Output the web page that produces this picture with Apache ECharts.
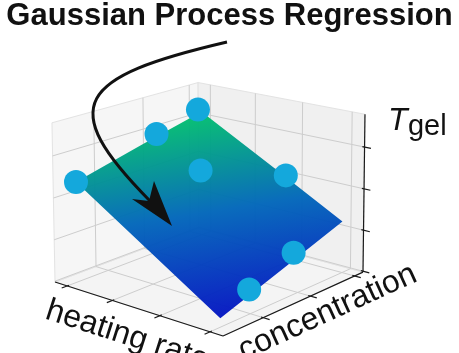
<!DOCTYPE html>
<html>
<head>
<meta charset="utf-8">
<script src="https://cdn.jsdelivr.net/npm/echarts/dist/echarts.min.js"></script>
<style>
html,body{margin:0;padding:0;background:#ffffff;}
#chart{width:459px;height:353px;}
</style>
</head>
<body>
<div id="chart"></div>
<script>
// ---------------- data ----------------
// GP-predicted surface: rows = concentration, columns = heating rate
const surfaceHeatingRate = [1, 2.5, 4];          // °C/min
const surfaceConcentration = [7, 13.5, 20];      // wt%
const surfaceTgel = [
  [20.9, 26.4, 31.9],
  [23.5, 28.7, 33.9],
  [26.1, 31.0, 35.8]
];
// observed measurements (blue dots)
const obsHeatingRate   = [4.0, 4.0, 4.0, 3.13, 2.16, 1.12, 1.1];
const obsConcentration = [19.6, 15.1, 7, 15.6, 20, 15.2, 10.4];
const obsTgel          = [36.2, 34.7, 31.9, 31.1, 30.1, 24.3, 22.3];
// axes
const heatingRange = [0.75, 4.28];
const concRange = [6, 21];
const tgelRange = [19.9, 38.9];
const heatingTicks = [1, 2, 3, 4];
const concTicks = [10, 15, 20];
const tgelTicks = [20, 25, 30, 35];

// ---------------- view (perspective of the 3D box) ----------------
const W = 459, H = 353;
const viewOrigin = [223, 336];            // front-bottom corner of the box
const vanishA = [-1672, -273];            // heating-rate direction
const vanishB = [1660, -320];             // concentration direction
const vanishC = [241, 10022];             // Tgel direction
const cornerA = [55, 282], cornerB = [363, 272], cornerC = [224, 162];

function lambdaFor(end, vp) {
  const i = Math.abs(viewOrigin[0] - end[0]) > Math.abs(viewOrigin[1] - end[1]) ? 0 : 1;
  return (viewOrigin[i] - end[i]) / (end[i] - vp[i]);
}
const LA = lambdaFor(cornerA, vanishA), LB = lambdaFor(cornerB, vanishB), LC = lambdaFor(cornerC, vanishC);

function project(a, b, c) {
  const w = 1 + a * LA + b * LB + c * LC;
  return [
    (viewOrigin[0] + a * LA * vanishA[0] + b * LB * vanishB[0] + c * LC * vanishC[0]) / w,
    (viewOrigin[1] + a * LA * vanishA[1] + b * LB * vanishB[1] + c * LC * vanishC[1]) / w
  ];
}
const sc = (v, r) => (v - r[0]) / (r[1] - r[0]);
const projectData = (hr, conc, t) => project(sc(hr, heatingRange), sc(conc, concRange), sc(t, tgelRange));

// ---------------- renderers ----------------
function renderBox(params, api) {
  const P = (a, b, c) => api.coord(project(a, b, c));
  const ch = [];
  const pane = (pts, fill) => ch.push({
    type: 'polygon', shape: { points: pts.map(p => P(p[0], p[1], p[2])) },
    style: { fill: fill, stroke: '#E3E3E3', lineWidth: 1 }
  });
  pane([[0,0,0],[1,0,0],[1,1,0],[0,1,0]], '#F4F4F4');
  pane([[1,0,0],[1,1,0],[1,1,1],[1,0,1]], '#F6F6F6');
  pane([[0,1,0],[1,1,0],[1,1,1],[0,1,1]], '#F0F0F0');
  const seg = (p, q, stroke, lw) => {
    const A = P(p[0], p[1], p[2]), B = P(q[0], q[1], q[2]);
    ch.push({ type: 'line', shape: { x1: A[0], y1: A[1], x2: B[0], y2: B[1] },
      style: { stroke: stroke, lineWidth: lw } });
  };
  const gridC = '#CDCDCD';
  heatingTicks.forEach(v => { const a = sc(v, heatingRange);
    seg([a,0,0],[a,1,0], gridC, 1); seg([a,1,0],[a,1,1], gridC, 1); });
  concTicks.forEach(v => { const b = sc(v, concRange);
    seg([0,b,0],[1,b,0], gridC, 1); seg([1,b,0],[1,b,1], gridC, 1); });
  tgelTicks.forEach(v => { const c = sc(v, tgelRange);
    seg([1,0,c],[1,1,c], gridC, 1); seg([0,1,c],[1,1,c], gridC, 1); });
  const axC = '#1a1a1a';
  seg([0,0,0],[1,0,0], axC, 1.2);
  seg([0,0,0],[0,1,0], axC, 1.2);
  seg([0,1,0],[0,1,1], axC, 1.2);
  heatingTicks.forEach(v => { const a = sc(v, heatingRange); seg([a,0.012,0],[a,-0.035,0], axC, 1.2); });
  concTicks.forEach(v => { const b = sc(v, concRange); seg([0.012,b,0],[-0.035,b,0], axC, 1.2); });
  tgelTicks.forEach(v => { const c = sc(v, tgelRange); seg([0.012,1,c],[-0.035,1,c], axC, 1.2); });
  return { type: 'group', children: ch };
}

const surfaceStops = ['#0316C2', '#0066BA', '#00C46A'];
function renderSurface(params, api) {
  const nI = surfaceHeatingRate.length, nJ = surfaceConcentration.length;
  const node = (i, j) => api.coord(projectData(surfaceHeatingRate[i], surfaceConcentration[j], surfaceTgel[j][i]));
  const pts = [];
  for (let i = 0; i < nI; i++) pts.push(node(i, 0));
  for (let j = 1; j < nJ; j++) pts.push(node(nI - 1, j));
  for (let i = nI - 2; i >= 0; i--) pts.push(node(i, nJ - 1));
  for (let j = nJ - 2; j > 0; j--) pts.push(node(0, j));
  // least-squares fit of Tgel against screen position -> gradient direction
  let Sxx=0,Sxy=0,Syy=0,Sx=0,Sy=0,n=0,Sxt=0,Syt=0,St=0,tmin=Infinity,tmax=-Infinity;
  for (let j = 0; j < nJ; j++) for (let i = 0; i < nI; i++) {
    const p = node(i, j), t = surfaceTgel[j][i];
    Sxx+=p[0]*p[0]; Sxy+=p[0]*p[1]; Syy+=p[1]*p[1]; Sx+=p[0]; Sy+=p[1]; n++;
    Sxt+=p[0]*t; Syt+=p[1]*t; St+=t; tmin=Math.min(tmin,t); tmax=Math.max(tmax,t);
  }
  const det3 = m => m[0][0]*(m[1][1]*m[2][2]-m[1][2]*m[2][1]) - m[0][1]*(m[1][0]*m[2][2]-m[1][2]*m[2][0]) + m[0][2]*(m[1][0]*m[2][1]-m[1][1]*m[2][0]);
  const M = [[Sxx,Sxy,Sx],[Sxy,Syy,Sy],[Sx,Sy,n]], R = [Sxt,Syt,St];
  const D = det3(M);
  const col = k => M.map((row, r) => row.map((v, c) => c === k ? R[r] : v));
  const al = det3(col(0)) / D, be = det3(col(1)) / D;
  const g2 = al*al + be*be;
  const cx = Sx/n, cy = Sy/n, tm = St/n;
  const x1 = cx + al*(tmin - tm)/g2, y1 = cy + be*(tmin - tm)/g2;
  const x2 = cx + al*(tmax - tm)/g2, y2 = cy + be*(tmax - tm)/g2;
  const stops = surfaceStops.map((c, k) => ({ offset: k / (surfaceStops.length - 1), color: c }));
  return { type: 'polygon', shape: { points: pts },
    style: { fill: new echarts.graphic.LinearGradient(x1, y1, x2, y2, stops, true), opacity: 0.96 } };
}

function renderDot(params, api) {
  const p = api.coord(projectData(api.value(0), api.value(1), api.value(2)));
  return { type: 'circle', shape: { cx: p[0], cy: p[1], r: 12 }, style: { fill: '#14A8DC' } };
}

// ---------------- chart ----------------
const chart = echarts.init(document.getElementById('chart'), null, { renderer: 'canvas', width: W, height: H });
chart.setOption({
  animation: false,
  backgroundColor: '#ffffff',
  title: {
    text: 'Gaussian Process Regression', left: 'center', top: 1, padding: 0,
    textStyle: { fontSize: 31, fontWeight: 'bold', fontFamily: 'Liberation Sans', color: '#111111' }
  },
  grid: { left: 0, right: 0, top: 0, bottom: 0 },
  xAxis: { type: 'value', min: 0, max: W, show: false },
  yAxis: { type: 'value', min: 0, max: H, inverse: true, show: false },
  series: [
    { type: 'custom', name: 'box', silent: true, clip: false, data: [[0, 0]], renderItem: renderBox, z: 1 },
    { type: 'custom', name: 'GP surface', silent: true, clip: false, data: [[0, 0]], renderItem: renderSurface, z: 2 },
    { type: 'custom', name: 'measurements', silent: true, clip: false,
      data: obsHeatingRate.map((h, i) => [h, obsConcentration[i], obsTgel[i]]),
      encode: { x: 0, y: 1 }, renderItem: renderDot, z: 3 }
  ]
});

// axis labels placed relative to the projected axes
const px = p => chart.convertToPixel({ gridIndex: 0 }, p);
const hA = px(project(0, 0, 0)), hB = px(project(1, 0, 0)), hM = px(project(0.5, 0, 0));
const cA = px(project(0, 0, 0)), cB = px(project(0, 1, 0)), cM = px(project(0, 0.5, 0));
const zTop = px(project(0, 1, 1));
const hAng = Math.atan2(-(hA[1] - hB[1]), hA[0] - hB[0]);
const cAng = Math.atan2(-(cB[1] - cA[1]), cB[0] - cA[0]);
const labelFont = '32px "Liberation Sans"';
chart.setOption({
  graphic: [
    { type: 'text', x: hM[0] - 8, y: hM[1] + 28, rotation: hAng, z: 50,
      style: { text: 'heating rate', font: labelFont, fill: '#111', textAlign: 'center', textVerticalAlign: 'middle' } },
    { type: 'text', x: cM[0] + 31, y: cM[1] + 10, rotation: cAng, z: 50,
      style: { text: 'concentration', font: labelFont, fill: '#111', textAlign: 'center', textVerticalAlign: 'middle' } },
    { type: 'text', x: zTop[0] + 23, y: zTop[1] + 7, z: 50,
      style: { text: 'T', font: 'italic 32px "Liberation Sans"', fill: '#111', textAlign: 'left', textVerticalAlign: 'middle' } },
    { type: 'text', x: zTop[0] + 43, y: zTop[1] + 13, z: 50,
      style: { text: 'gel', font: '29px "Liberation Sans"', fill: '#111', textAlign: 'left', textVerticalAlign: 'middle' } },
    { type: 'bezierCurve', z: 60,
      shape: { x1: 227, y1: 42, cpx1: 77, cpy1: 77, cpx2: 55, cpy2: 105, x2: 150, y2: 201 },
      style: { stroke: '#111', lineWidth: 3, fill: null } },
    { type: 'polygon', z: 61,
      shape: { points: [[172, 226], [132, 199], [149, 201], [154, 181]] },
      style: { fill: '#111' } }
  ]
});
</script>
</body>
</html>
